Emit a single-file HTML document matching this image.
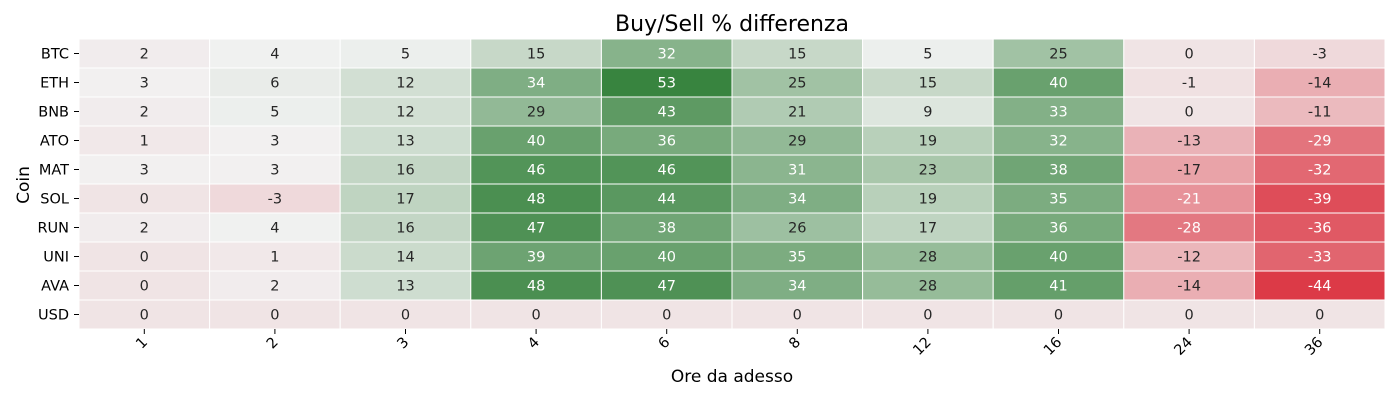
<!DOCTYPE html>
<html><head><meta charset="utf-8"><style>
body{margin:0;background:#fff;font-family:"Liberation Sans","DejaVu Sans",sans-serif}
svg{display:block}
</style></head><body>
<svg id="chart" width="1400" height="400" xmlns="http://www.w3.org/2000/svg">
<text x="732" y="31" font-size="22" text-anchor="middle" fill="#000" font-family="DejaVu Sans, sans-serif">Buy/Sell % differenza</text>
<text x="732" y="382" font-size="17" text-anchor="middle" fill="#000" font-family="DejaVu Sans, sans-serif">Ore da adesso</text>
<text x="29" y="185" font-size="17" text-anchor="middle" fill="#000" font-family="DejaVu Sans, sans-serif" transform="rotate(-90 29 185)">Coin</text>
<g id="cells"></g><g id="ticks"></g>
</svg>
<script>
const coins = ["BTC","ETH","BNB","ATO","MAT","SOL","RUN","UNI","AVA","USD"];
const hours = ["1","2","3","4","6","8","12","16","24","36"];
const values = [
[2,4,5,15,32,15,5,25,0,-3],
[3,6,12,34,53,25,15,40,-1,-14],
[2,5,12,29,43,21,9,33,0,-11],
[1,3,13,40,36,29,19,32,-13,-29],
[3,3,16,46,46,31,23,38,-17,-32],
[0,-3,17,48,44,34,19,35,-21,-39],
[2,4,16,47,38,26,17,36,-28,-36],
[0,1,14,39,40,35,28,40,-12,-33],
[0,2,13,48,47,34,28,41,-14,-44],
[0,0,0,0,0,0,0,0,0,0]];
const X0=79,X1=1385,Y0=39,Y1=329;
const cw=(X1-X0)/hours.length, ch=(Y1-Y0)/coins.length;
const xPos=i=>X0+i*cw, yPos=j=>Y0+j*ch;
let vmin=Infinity,vmax=-Infinity;
values.forEach(r=>r.forEach(v=>{vmin=Math.min(vmin,v);vmax=Math.max(vmax,v);}));
const mid=(vmin+vmax)/2-1;
const cLow=[220,58,71],cMid=[242,242,242],cHigh=[56,132,63];
function color(v){let a,b,t;if(v<mid){a=cMid;b=cLow;t=(mid-v)/(mid-vmin);}else{a=cMid;b=cHigh;t=(v-mid)/(vmax-mid);}
return a.map((c,k)=>Math.round(c+(b[k]-c)*t));}
function lum(c){const f=x=>{x/=255;return x<=0.03928?x/12.92:Math.pow((x+0.055)/1.055,2.4);};return 0.2126*f(c[0])+0.7152*f(c[1])+0.0722*f(c[2]);}
const NS="http://www.w3.org/2000/svg";
const g=document.getElementById('cells'),tg=document.getElementById('ticks');
values.forEach((row,j)=>row.forEach((v,i)=>{
 const c=color(v);
 const r=document.createElementNS(NS,'rect');
 r.setAttribute('x',xPos(i));r.setAttribute('y',yPos(j));r.setAttribute('width',cw);r.setAttribute('height',ch);
 r.setAttribute('fill',`rgb(${c})`);r.setAttribute('stroke','#fff');r.setAttribute('stroke-width','1');
 
 
 g.appendChild(r);
 const t=document.createElementNS(NS,'text');
 t.setAttribute('x',xPos(i)+cw/2);t.setAttribute('y',yPos(j)+ch/2+5);
 t.setAttribute('text-anchor','middle');t.setAttribute('font-size','14.5');t.setAttribute('font-family','DejaVu Sans, sans-serif');
 t.setAttribute('fill',lum(c)>0.408?'#262626':'#ffffff');
 t.textContent=v;
 
 
 g.appendChild(t);
}));
coins.forEach((c,j)=>{
 const y=yPos(j)+ch/2;
 const l=document.createElementNS(NS,'line');
 l.setAttribute('x1',74);l.setAttribute('x2',79);l.setAttribute('y1',y);l.setAttribute('y2',y);l.setAttribute('stroke','#000');
 
 
 tg.appendChild(l);
 const t=document.createElementNS(NS,'text');
 t.setAttribute('x',69);t.setAttribute('y',y+5);t.setAttribute('text-anchor','end');t.setAttribute('font-size','14.5');t.setAttribute('font-family','DejaVu Sans, sans-serif');
 t.textContent=c;
 
 
 tg.appendChild(t);
});
hours.forEach((h,i)=>{
 const x=xPos(i)+cw/2;
 const l=document.createElementNS(NS,'line');
 l.setAttribute('x1',x);l.setAttribute('x2',x);l.setAttribute('y1',329);l.setAttribute('y2',334);l.setAttribute('stroke','#000');
 
 
 tg.appendChild(l);
 const t=document.createElementNS(NS,'text');
 t.setAttribute('x',x+4);t.setAttribute('y',343);t.setAttribute('text-anchor','end');t.setAttribute('font-size','14.5');t.setAttribute('font-family','DejaVu Sans, sans-serif');
 t.setAttribute('transform',`rotate(-45 ${x+4} 343)`);
 t.textContent=h;
 
 
 tg.appendChild(t);
});
</script>
</body></html>
